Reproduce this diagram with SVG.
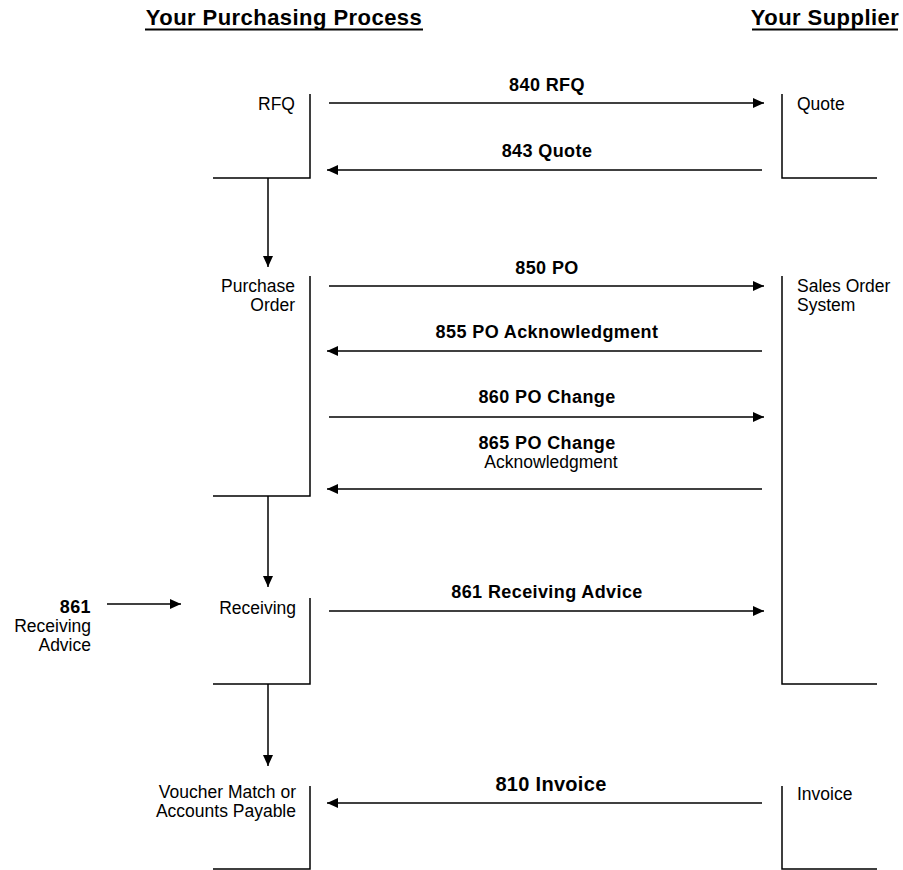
<svg xmlns="http://www.w3.org/2000/svg" width="903" height="870" viewBox="0 0 903 870">
  <defs>
    <marker id="arrow" markerUnits="userSpaceOnUse" markerWidth="12" markerHeight="11" refX="11" refY="5.5" orient="auto">
      <path d="M0,0.5 L11,5.5 L0,10.5 Z" fill="#000"/>
    </marker>
    <style>
      .hdr { font-family: "Liberation Sans", Arial, sans-serif; font-size: 22px; font-weight: bold; letter-spacing: 0.45px; fill: #000; }
      .lbl { font-family: "Liberation Sans", Arial, sans-serif; font-size: 17.5px; fill: #000; }
      .msg { font-family: "Liberation Sans", Arial, sans-serif; font-size: 18px; font-weight: bold; letter-spacing: 0.4px; fill: #000; }
      .big { font-family: "Liberation Sans", Arial, sans-serif; font-size: 20px; font-weight: bold; letter-spacing: 0.3px; fill: #000; }
      .edge { stroke: #000; stroke-width: 1.5; fill: none; }
      .flow { stroke: #000; stroke-width: 1.5; fill: none; marker-end: url(#arrow); }
    </style>
  </defs>
  <rect width="903" height="870" fill="#fff"/>

  <!-- column headings -->
  <g id="headings">
    <text class="hdr" x="284" y="25" text-anchor="middle">Your Purchasing Process</text>
    <line x1="145" y1="29.5" x2="423" y2="29.5" stroke="#000" stroke-width="2"/>
    <text class="hdr" x="825" y="25" text-anchor="middle">Your Supplier</text>
    <line x1="752" y1="29.5" x2="898" y2="29.5" stroke="#000" stroke-width="2"/>
  </g>

  <!-- purchasing side steps -->
  <g id="rfq">
    <path class="edge" d="M310,94 V178 H213"/>
    <text class="lbl" x="295" y="110" text-anchor="end">RFQ</text>
  </g>
  <g id="purchase-order">
    <path class="edge" d="M310,276 V496 H213"/>
    <text class="lbl" x="295" y="292" text-anchor="end">Purchase</text>
    <text class="lbl" x="295" y="311" text-anchor="end">Order</text>
  </g>
  <g id="receiving">
    <path class="edge" d="M310,598 V684 H213"/>
    <text class="lbl" x="296" y="614" text-anchor="end">Receiving</text>
  </g>
  <g id="voucher-match">
    <path class="edge" d="M310,786 V869 H213"/>
    <text class="lbl" x="296" y="798" text-anchor="end">Voucher Match or</text>
    <text class="lbl" x="296" y="817" text-anchor="end">Accounts Payable</text>
  </g>

  <!-- external receiving advice source -->
  <g id="receiving-advice-in">
    <text class="msg" x="91" y="613" text-anchor="end">861</text>
    <text class="lbl" x="91" y="632" text-anchor="end">Receiving</text>
    <text class="lbl" x="91" y="651" text-anchor="end">Advice</text>
  </g>

  <!-- supplier side steps -->
  <g id="quote">
    <path class="edge" d="M782,94 V178 H877"/>
    <text class="lbl" x="797" y="110">Quote</text>
  </g>
  <g id="sales-order-system">
    <path class="edge" d="M782,276 V684 H877"/>
    <text class="lbl" x="797" y="292">Sales Order</text>
    <text class="lbl" x="797" y="311">System</text>
  </g>
  <g id="invoice">
    <path class="edge" d="M782,786 V869 H877"/>
    <text class="lbl" x="797" y="800">Invoice</text>
  </g>

  <!-- connectors -->
  <g id="connectors">
    <line class="flow" x1="268" y1="178" x2="268" y2="267"/>
    <line class="flow" x1="268" y1="496" x2="268" y2="587"/>
    <line class="flow" x1="268" y1="684" x2="268" y2="766"/>
    <line class="flow" x1="107" y1="604" x2="181" y2="604"/>

    <line class="flow" x1="329" y1="103" x2="764" y2="103"/>
    <line class="flow" x1="762" y1="170" x2="327" y2="170"/>
    <line class="flow" x1="329" y1="286" x2="764" y2="286"/>
    <line class="flow" x1="762" y1="351" x2="327" y2="351"/>
    <line class="flow" x1="329" y1="417" x2="764" y2="417"/>
    <line class="flow" x1="762" y1="489" x2="327" y2="489"/>
    <line class="flow" x1="329" y1="611" x2="764" y2="611"/>
    <line class="flow" x1="762" y1="803" x2="327" y2="803"/>
  </g>

  <!-- message labels -->
  <g id="message-labels">
    <text class="msg" x="547" y="91" text-anchor="middle">840 RFQ</text>
    <text class="msg" x="547" y="157" text-anchor="middle">843 Quote</text>
    <text class="msg" x="547" y="274" text-anchor="middle">850 PO</text>
    <text class="msg" x="547" y="338" text-anchor="middle">855 PO Acknowledgment</text>
    <text class="msg" x="547" y="403" text-anchor="middle">860 PO Change</text>
    <text class="msg" x="547" y="449" text-anchor="middle">865 PO Change</text>
    <text class="lbl" x="551" y="468" text-anchor="middle">Acknowledgment</text>
    <text class="msg" x="547" y="598" text-anchor="middle">861 Receiving Advice</text>
    <text class="big" x="551" y="791" text-anchor="middle">810 Invoice</text>
  </g>
</svg>
